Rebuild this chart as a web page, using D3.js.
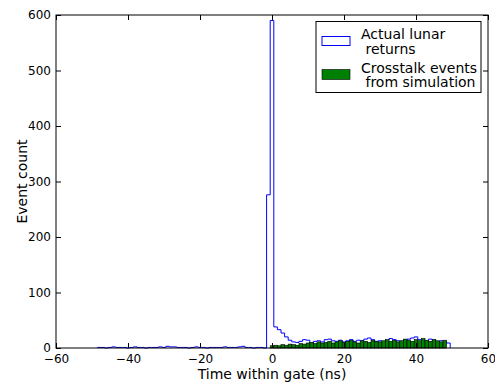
<!DOCTYPE html>
<html><head><meta charset="utf-8">
<script src="https://cdn.jsdelivr.net/npm/d3@7"></script>
<style>body{margin:0;background:#fff}svg{display:block;font-family:"DejaVu Sans",sans-serif}</style>
</head><body>
<svg id="c" width="495" height="386"></svg>
<script>
// Data
const xTicks = [-60, -40, -20, 0, 20, 40, 60];
const yTicks = [0, 100, 200, 300, 400, 500, 600];
const binWidth = 1;
const blueStart = -48; // center of first bin (ns)
const blueCounts = [
  1,1,0,1,2,1,1,1,0,1, 2,1,1,0,1,1,1,2,1,3, 2,2,1,1,1,0,1,2,1,1,
  0,1,1,1,1,2,1,1,1,2, 3,1,1,0,1,1,0,
  276, 590,
  38, 33, 27, 20, 14, 11,
  10,12,15,14,9,12,13,11,15,16,13,12,14,11,13,15,12,14,13,16,18,15,12,13,11,14,17,15,13,12,14,16,18,20,15,13,12,16,14,11,13,12,9
];
const greenStart = 0;
const greenCounts = [4,5,4,6,5,7,6,5,8,7,9,10,8,11,9,10,12,9,11,13,10,12,14,11,9,13,12,10,14,12,11,13,15,12,14,11,13,16,14,12,15,13,17,14,12,15,13,11,14];
const legendLabels = [["Actual lunar", " returns"], ["Crosstalk events", " from simulation"]];

const svg = d3.select("#c");
const L = 56, R = 488, T = 15, B = 348;
const x = d3.scaleLinear().domain([-60, 60]).range([L, R]);
const y = d3.scaleLinear().domain([0, 600]).range([B, T]);

svg.append("rect").attr("width", 495).attr("height", 386).attr("fill", "#fff");

// Blue step histogram
const pts = [[blueStart - binWidth/2, 0]];
blueCounts.forEach((c, i) => {
  const c0 = blueStart + i*binWidth - binWidth/2;
  pts.push([c0, c]); pts.push([c0 + binWidth, c]);
});
pts.push([blueStart + blueCounts.length*binWidth - binWidth/2, 0]);
svg.append("path")
  .attr("d", d3.line().x(d => x(d[0])).y(d => y(d[1]))(pts))
  .attr("fill", "none").attr("stroke", "#0000ff").attr("stroke-width", 1);

// Green bars
svg.append("g").selectAll("rect").data(greenCounts).join("rect")
  .attr("x", (d, i) => x(greenStart + i*binWidth - binWidth/2))
  .attr("width", x(binWidth) - x(0))
  .attr("y", d => y(d))
  .attr("height", d => y(0) - y(d))
  .attr("fill", "#008000").attr("stroke", "#000").attr("stroke-width", 0.6);

// Frame
svg.append("rect").attr("x", L).attr("y", T).attr("width", R-L).attr("height", B-T)
  .attr("fill", "none").attr("stroke", "#000").attr("stroke-width", 1);

// Axes (ticks inward, on all sides)
const tl = 5;
const xb = svg.append("g").attr("transform", `translate(0,${B})`)
  .call(d3.axisBottom(x).tickValues(xTicks).tickSizeInner(-tl).tickSizeOuter(0).tickPadding(6).tickFormat(d => d < 0 ? "\u2212" + Math.abs(d) : d));
const xt = svg.append("g").attr("transform", `translate(0,${T})`)
  .call(d3.axisTop(x).tickValues(xTicks).tickSizeInner(-tl).tickSizeOuter(0).tickFormat(""));
const yl = svg.append("g").attr("transform", `translate(${L},0)`)
  .call(d3.axisLeft(y).tickValues(yTicks).tickSizeInner(-tl).tickSizeOuter(0).tickPadding(5));
const yr = svg.append("g").attr("transform", `translate(${R},0)`)
  .call(d3.axisRight(y).tickValues(yTicks).tickSizeInner(-tl).tickSizeOuter(0).tickFormat(""));
[xb, xt, yl, yr].forEach(g => {
  g.select(".domain").remove();
  g.selectAll("line").attr("stroke", "#000");
  g.selectAll("text").attr("font-size", 12).attr("fill", "#000").attr("font-family", "DejaVu Sans");
});
xb.selectAll("text").attr("dy", "0.71em");

// Axis labels
svg.append("text").attr("x", (L+R)/2).attr("y", 379).attr("text-anchor", "middle")
  .attr("font-size", 14).text("Time within gate (ns)");
svg.append("text").attr("transform", `translate(27,${(T+B)/2}) rotate(-90)`).attr("text-anchor", "middle")
  .attr("font-size", 14).text("Event count");

// Legend
const lg = svg.append("g");
lg.append("rect").attr("x", 316).attr("y", 21.5).attr("width", 165).attr("height", 71)
  .attr("fill", "#fff").attr("stroke", "#000").attr("stroke-width", 1);
lg.append("rect").attr("x", 322).attr("y", 36.5).attr("width", 28).attr("height", 9)
  .attr("fill", "#fff").attr("stroke", "#0000ff").attr("stroke-width", 1);
lg.append("rect").attr("x", 322).attr("y", 69.5).attr("width", 28).attr("height", 10)
  .attr("fill", "#008000").attr("stroke", "#000").attr("stroke-width", 0.6);
const lines = [[legendLabels[0][0], 39], [legendLabels[0][1], 54], [legendLabels[1][0], 72.5], [legendLabels[1][1], 87]];
lines.forEach(([t, yy]) => {
  lg.append("text").attr("x", 361).attr("y", yy).attr("font-size", 14)
    .attr("xml:space", "preserve").style("white-space", "pre").text(t);
});
</script>
</body></html>
